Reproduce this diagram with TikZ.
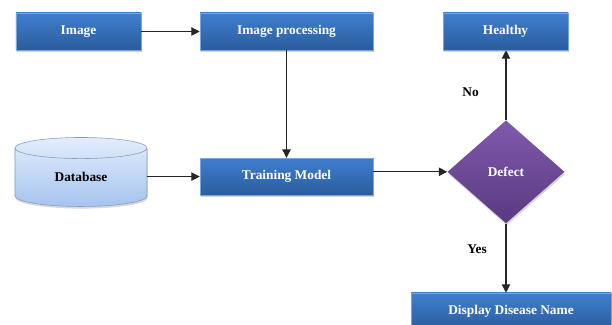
\documentclass[tikz,border=0pt]{standalone}
\usepackage{fontspec}
\setmainfont{Liberation Serif}
\newfontfamily\boxfont{Liberation Serif}
\usetikzlibrary{shapes.geometric,shadows,arrows.meta}

\definecolor{boxtop}{HTML}{3E7ECF}
\definecolor{boxbot}{HTML}{2C5C9C}
\definecolor{dectop}{HTML}{8059AE}
\definecolor{decbot}{HTML}{5A3A80}
\definecolor{dbtop}{HTML}{E3EDFC}
\definecolor{dbbot}{HTML}{A6C3EF}

\begin{document}
\begin{tikzpicture}
[step box/.style={rectangle,draw=boxtop!70!white,thin,top color=boxtop,bottom color=boxbot, text=white, font=\boxfont\fontsize{9.5}{11}\selectfont\bfseries, minimum height=0.925cm, inner sep=0.2em, text centered, drop shadow={shadow xshift=0.5pt,shadow yshift=-1.5pt,opacity=0.35}},
 decision/.style={diamond,draw=none,top color=dectop,bottom color=decbot,text=white, font=\boxfont\fontsize{9.5}{11}\selectfont\bfseries, minimum width=2.925cm, minimum height=2.575cm, aspect=1.14, inner sep=0pt, drop shadow={shadow xshift=0.5pt,shadow yshift=-1.5pt,opacity=0.35}},
 store/.style={cylinder,shape border rotate=90,aspect=0.4,draw=dbbot!80!black,thin,top color=dbtop,bottom color=dbbot, font=\boxfont\fontsize{9.5}{11}\selectfont\bfseries, minimum width=3.3cm, minimum height=1.725cm, inner sep=0pt, drop shadow={shadow xshift=0.5pt,shadow yshift=-1.5pt,opacity=0.3}},
 link/.style={draw=black!85,thick,-{Triangle[length=6pt,width=6pt]}},
 lbl/.style={font=\boxfont\fontsize{9.5}{11}\selectfont\bfseries}]
\useasboundingbox (0,0) rectangle (15.3,8.125);

% top row
\node[step box,minimum width=3.125cm] (img) at (1.9625,7.3375) {Image};
\node[step box,minimum width=4.325cm] (proc) at (7.1625,7.3375) {Image processing};
\node[step box,minimum width=3.125cm] (healthy) at (12.6375,7.3375) {Healthy};

% middle row
\node[store] (db) at (2.025,3.69) {Database};
\node[step box,minimum width=4.325cm] (train) at (7.1625,3.71) {Training Model};
\node[decision] (defect) at (12.65,3.83) {Defect};

% bottom
\node[step box,minimum width=5cm] (disp) at (12.775,0.3375) {Display Disease Name};

\draw[link] (img) -- (proc);
\draw[link] (proc) -- (train);
\draw[link] (db.east |- train) -- (train);
\draw[link] (train.east |- defect) -- (defect);
\draw[link] (defect) -- node[lbl,left=0.55cm,pos=0.4] (no) {No} (defect |- healthy.south);
\draw[link] (defect) -- node[lbl,left=0.35cm,pos=0.37] (yes) {Yes} (defect |- disp.north);
\end{tikzpicture}
\end{document}
